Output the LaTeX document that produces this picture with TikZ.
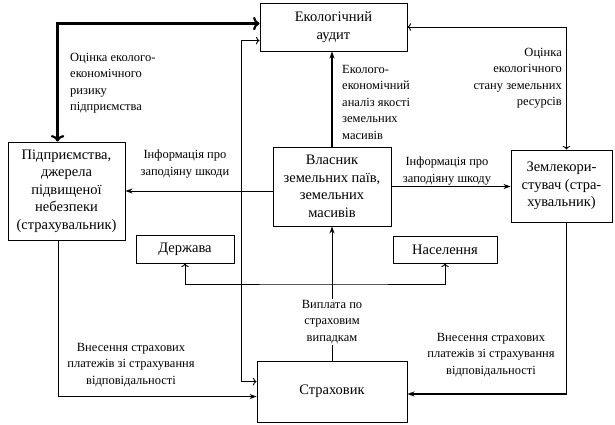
\documentclass[tikz,border=0pt]{standalone}
\usepackage{fontspec}
\setmainfont{Liberation Serif}
\usetikzlibrary{positioning,arrows.meta,calc}

\begin{document}
\begin{tikzpicture}[
    x=1pt, y=-1pt,
    boxStyle/.style={
        rectangle, draw=black, line width=0.9pt, fill=white,
        font=\fontsize{14.5}{17.5}\selectfont, align=center, inner sep=2pt
    },
    labelStyle/.style={
        font=\fontsize{12.5}{16.5}\selectfont, inner sep=1pt
    },
    arrowStyle/.style={line width=0.9pt, draw=black, arrows={-Stealth[length=7pt,width=5pt]}},
    thickArrowStyle/.style={arrowStyle, line width=2.2pt}
]
    \useasboundingbox (0,0) rectangle (615,425);

    % Boxes
    \node[boxStyle, minimum width=147pt, minimum height=48pt] (audit) at (333.5,27) {Екологічний\\аудит};
    \node[boxStyle, minimum width=117pt, minimum height=98pt] (ent) at (66.5,191)
        {Підприємства,\\джерела\\підвищеної\\небезпеки\\(страхувальник)};
    \node[boxStyle, minimum width=118pt, minimum height=79pt] (own) at (332,186.5)
        {Власник\\земельних паїв,\\земельних\\масивів};
    \node[boxStyle, minimum width=101pt, minimum height=72pt] (user) at (561.5,186)
        {Землекори-\\стувач (стра-\\хувальник)};
    \node[boxStyle, minimum width=98pt, minimum height=28pt] (state) at (185,249) {Держава};
    \node[boxStyle, minimum width=104pt, minimum height=27pt] (people) at (445,249.5) {Населення};
    \node[boxStyle, minimum width=150pt, minimum height=61pt] (ins) at (332,391.5) {Страховик};

    % Labels
    \node[labelStyle, anchor=west, align=left] (riskLbl) at (69,83)
        {Оцінка еколого-\\економічного\\ризику\\підприємства};
    \node[labelStyle, align=center] (infoLeft) at (185,164) {Інформація про\\заподіяну шкоди};
    \node[labelStyle, anchor=west, align=left] (analysisLbl) at (341,102)
        {Еколого-\\економічний\\аналіз якості\\земельних\\масивів};
    \node[labelStyle, anchor=east, align=right] (stateLbl) at (563,78)
        {Оцінка\\екологічного\\стану земельних\\ресурсів};
    \node[labelStyle, align=center] (infoRight) at (447,171) {Інформація про\\заподіяну шкоду};
    \node[labelStyle, align=center] (feeLeft) at (131,365)
        {Внесення страхових\\платежів зі страхування\\відповідальності};
    \node[labelStyle, align=center] (feeRight) at (491,355)
        {Внесення страхових\\платежів зі страхування\\відповідальності};
    \node[labelStyle, align=center, fill=white] (pay) at (332,322) {Виплата по\\страховим\\випадкам};
    \coordinate (split) at (332,284);
    \coordinate (turn) at ([xshift=5pt]user.south |- 0,394);

    % Arrows
    \draw[thickArrowStyle, <->] ([xshift=50pt]ent.north west) |- ([yshift=-21pt]audit.north west);
    \draw[arrowStyle, <->] ([yshift=-38pt]audit.north west) -- ++(-18,0) |- ([yshift=-21pt]ins.north west);
    \draw[arrowStyle, <->] (audit.east) -| ([xshift=5pt]user.north);
    \draw[thickArrowStyle] (own.north) -- (own.north |- audit.south);
    \draw[arrowStyle] (own.west |- ent.east) -- (ent.east);
    \draw[arrowStyle] (own.east) -- (own.east -| user.west);
    \draw[arrowStyle] ([xshift=-8.5pt]ent.south) |- ([yshift=-36pt]ins.north west);
    \draw[line width=0.9pt] ([xshift=5pt]user.south) -- (turn);
    \draw[thickArrowStyle] (turn) -- (turn -| ins.east);
    \draw[line width=0.9pt] (ins.north) -- (pay.south);
    \draw[arrowStyle] (pay.north) -- (own.south);
    \draw[arrowStyle, <->] (state.south) |- (split) -| (people.south);
\end{tikzpicture}
\end{document}
